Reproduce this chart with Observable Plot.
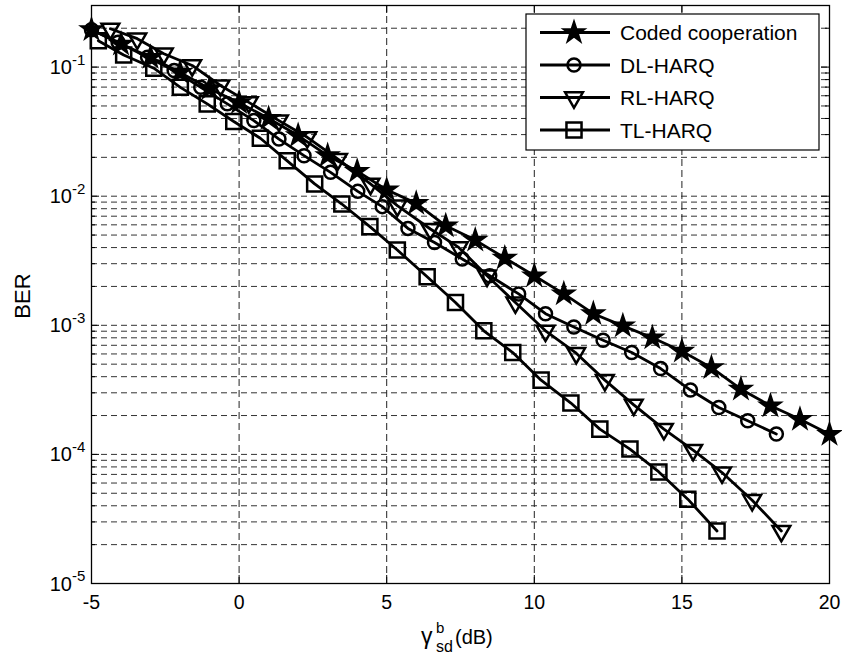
<!DOCTYPE html>
<html><head><meta charset="utf-8">
<script src="https://cdn.jsdelivr.net/npm/d3@7"></script>
<script src="https://cdn.jsdelivr.net/npm/@observablehq/plot@0.6"></script>
<style>body{margin:0;background:#fff;} svg{font-family:"Liberation Sans",Arial,Helvetica,sans-serif;}</style>
</head><body><div id="chart"></div>
<script>
// ---- data ----
const codedX = [-5,-4,-3,-2,-1,0,1,2,3,4,5,6,7,8,9,10,11,12,13,14,15,16,17,18,19,20];
const codedY = [0.195,0.151,0.119,0.091,0.068,0.053,0.040,0.0295,0.0206,0.0156,0.0112,0.0088,0.0059,0.00457,0.00332,0.00242,0.00175,0.00123,0.00099,0.00080,0.00063,0.00047,0.00032,0.000238,0.000187,0.000143];

const dlX = [-5,-4.1,-3.1,-2.2,-1.3,-0.4,0.5,1.35,2.2,3.1,4.02,4.85,5.72,6.62,7.56,8.49,9.47,10.38,11.34,12.33,13.30,14.28,15.29,16.25,17.23,18.2];
const dlY = [0.195,0.156,0.119,0.094,0.0697,0.0519,0.0385,0.0277,0.0206,0.0153,0.0109,0.0083,0.00563,0.00438,0.00326,0.00242,0.00175,0.00123,0.00097,0.000767,0.000615,0.000462,0.000315,0.000231,0.000182,0.000144];

const rlX = [-4.36,-3.45,-2.55,-1.59,-0.63,0.33,1.35,2.31,3.35,4.45,5.36,6.48,7.44,8.40,9.36,10.38,11.42,12.39,13.37,14.39,15.38,16.36,17.38,18.37];
const rlY = [0.198,0.166,0.127,0.103,0.072,0.0533,0.0385,0.0286,0.0194,0.01245,0.00844,0.00557,0.00401,0.00242,0.0015,0.000906,0.000608,0.000376,0.000242,0.000157,0.000108,0.0000723,0.0000442,0.0000255];

const tlX = [-4.77,-3.91,-2.89,-1.99,-1.08,-0.18,0.72,1.63,2.56,3.48,4.43,5.36,6.37,7.33,8.29,9.27,10.23,11.24,12.22,13.24,14.22,15.2,16.19];
const tlY = [0.16,0.124,0.098,0.0697,0.0519,0.0379,0.0281,0.0188,0.01245,0.0087,0.00581,0.00383,0.00238,0.0015,0.000906,0.000615,0.000376,0.00025,0.000157,0.00011,0.0000731,0.000045,0.0000255];

const seriesNames = ["Coded cooperation","DL-HARQ","RL-HARQ","TL-HARQ"];
const xTicks = [-5,0,5,10,15,20];
const xTickLabels = ["-5","0","5","10","15","20"];
const decades = [1e-5,1e-4,1e-3,1e-2,1e-1];
const decadeExp = ["-5","-4","-3","-2","-1"];
const minorMult = [2,3,4,5,6,7,8,9];
const xDomain = [-5,20];
const yDomain = [1e-5,0.3];

// ---- build ----
const triangleDown = {draw(ctx, size){
  const y = Math.sqrt(size/(3*Math.sqrt(3)));
  ctx.moveTo(0, 2*y); ctx.lineTo(-Math.sqrt(3)*y, -y); ctx.lineTo(Math.sqrt(3)*y, -y); ctx.closePath();
}};
const styles = [
  {symbol: d3.symbolStar, r: 6.0, fill: "black"},
  {symbol: d3.symbolCircle, r: 6.5, fill: "none"},
  {symbol: triangleDown, r: 6.6, fill: "none"},
  {symbol: d3.symbolSquare, r: 8.5, fill: "none"}
];
const xs = [codedX, dlX, rlX, tlX], ys = [codedY, dlY, rlY, tlY];
const rows = seriesNames.flatMap((n, k) => xs[k].map((x, i) => ({series: n, x, y: ys[k][i]})));
const minorGrid = decades.flatMap(d => minorMult.map(m => d*m)).filter(v => v < yDomain[1]);
const allY = [...decades, ...minorGrid];

const W = 842, H = 657, mL = 91, mR = 13, mT = 5, mB = 74;
const iw = W - mL - mR, ih = H - mT - mB;

const plot = Plot.plot({
  width: W, height: H,
  marginLeft: mL, marginRight: mR, marginTop: mT, marginBottom: mB,
  x: {domain: xDomain, axis: null},
  y: {type: "log", domain: yDomain, axis: null},
  style: {fontFamily: '"Liberation Sans",Arial,sans-serif', background: "white", color: "black"},
  marks: [
    Plot.ruleY(allY, {y: d => d, stroke: "#333", strokeWidth: 1, strokeDasharray: "6,4"}),
    Plot.ruleX(xTicks.slice(1, -1), {x: d => d, stroke: "#222", strokeWidth: 1, strokeDasharray: "7,4"}),
    Plot.tickY(decades, {y: d => d, insetRight: iw - 8, stroke: "black"}),
    Plot.tickY(minorGrid, {y: d => d, insetRight: iw - 4, stroke: "black"}),
    Plot.tickY(decades, {y: d => d, insetLeft: iw - 8, stroke: "black"}),
    Plot.tickY(minorGrid, {y: d => d, insetLeft: iw - 4, stroke: "black"}),
    Plot.tickX(xTicks, {x: d => d, insetTop: ih - 8, stroke: "black"}),
    Plot.tickX(xTicks, {x: d => d, insetBottom: ih - 8, stroke: "black"}),
    Plot.line(rows, {x: "x", y: "y", z: "series", stroke: "black", strokeWidth: 2.8}),
    ...seriesNames.map((n, k) => Plot.dot(rows.filter(r => r.series === n), {
      x: "x", y: "y", symbol: styles[k].symbol, r: styles[k].r,
      fill: styles[k].fill, stroke: "black", strokeWidth: 2.5
    })),
    Plot.frame({stroke: "black", strokeWidth: 1.3}),
    Plot.text(xTicks, {x: d => d, text: (d, i) => xTickLabels[i], frameAnchor: "bottom", dy: 25, lineAnchor: "bottom", fontSize: 19.5, fill: "black"}),
    Plot.text(decades, {y: d => d, text: () => "10", frameAnchor: "left", dx: -19.5, textAnchor: "end", lineAnchor: "bottom", dy: 7, fontSize: 20, fill: "black"}),
    Plot.text(decades, {y: d => d, text: (d, i) => decadeExp[i], frameAnchor: "left", dx: -19.5, textAnchor: "start", lineAnchor: "bottom", dy: -2.5, fontSize: 15, fill: "black"})
  ]
});
document.getElementById("chart").appendChild(plot);

// ---- axis titles and legend ----
const svg = d3.select(plot);
svg.append("text").attr("transform", "translate(29.5,296) rotate(-90)")
  .attr("text-anchor", "middle").attr("font-size", 22).attr("fill", "black").text("BER");
const xl = svg.append("g").attr("fill", "black").attr("text-anchor", "start");
xl.append("text").attr("x", 421).attr("y", 644).attr("font-size", 23).text("γ");
xl.append("text").attr("x", 436).attr("y", 633).attr("font-size", 15).text("b");
xl.append("text").attr("x", 436).attr("y", 652).attr("font-size", 16).text("sd");
xl.append("text").attr("x", 455).attr("y", 644).attr("font-size", 20).text("(dB)");

const lg = svg.append("g").attr("text-anchor", "start");
lg.append("rect").attr("x", 526).attr("y", 14).attr("width", 293).attr("height", 136)
  .attr("fill", "white").attr("stroke", "black").attr("stroke-width", 1.2);
const rowY = [32.5, 65, 97.5, 130];
seriesNames.forEach((n, k) => {
  const y = rowY[k];
  lg.append("line").attr("x1", 540).attr("x2", 610).attr("y1", y).attr("y2", y)
    .attr("stroke", "black").attr("stroke-width", 2.8);
  lg.append("path").attr("transform", `translate(574,${y})`)
    .attr("d", d3.symbol().type(styles[k].symbol).size(Math.PI * styles[k].r ** 2)())
    .attr("fill", styles[k].fill).attr("stroke", "black").attr("stroke-width", 2.5);
  lg.append("text").attr("x", 620).attr("y", y + 7.5).attr("font-size", 21).attr("fill", "black").text(n);
});
</script>
</body></html>
